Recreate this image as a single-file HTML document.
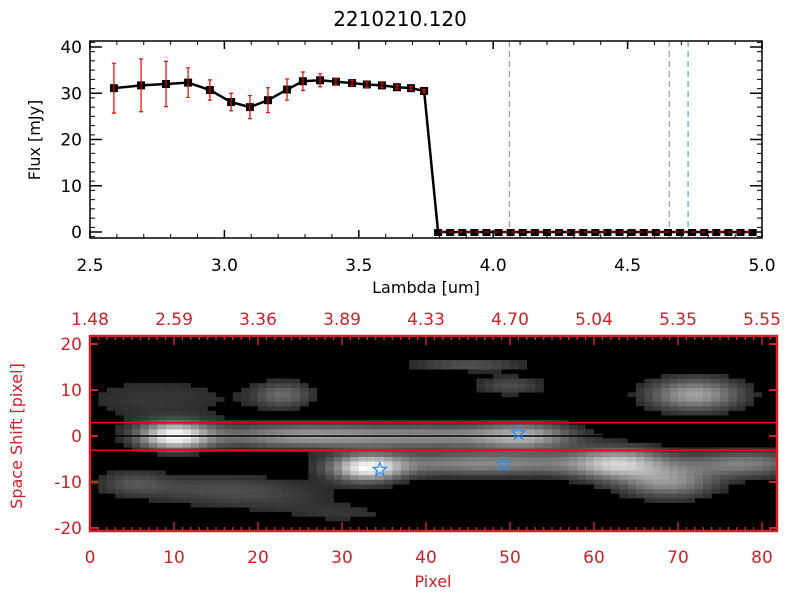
<!DOCTYPE html>
<html><head><meta charset="utf-8"><style>
body{margin:0;background:#fff;}
svg{display:block;font-family:"DejaVu Sans","Liberation Sans",sans-serif;}
</style></head><body>
<svg id="chart" width="800" height="600" viewBox="0 0 800 600">
<text x="400" y="26" font-size="20" text-anchor="middle">2210210.120</text>
<g id="top"></g>
<g id="bot"></g>
</svg>
<script>
// ---- spectrum data ----
const lambdas=[2.589,2.69,2.783,2.865,2.946,3.025,3.095,3.162,3.233,3.292,3.356,3.415,3.475,3.53,3.586,3.642,3.694,3.743];
const fluxes=[31.1,31.7,32.0,32.3,30.7,28.1,27.0,28.5,30.8,32.6,32.8,32.5,32.2,31.9,31.7,31.3,31.1,30.5];
const errors=[5.4,5.7,4.9,3.2,2.2,1.9,2.5,2.7,2.3,2.0,1.4,0.6,0.6,0.6,0.5,0.4,0.4,0.3];
const zeroLambdas=[3.795,3.84,3.885,3.93,3.975,4.02,4.065,4.11,4.155,4.2,4.245,4.29,4.335,4.38,4.425,4.47,4.515,4.56,4.605,4.65,4.695,4.74,4.785,4.83,4.875,4.92,4.965];
const vlines=[4.06,4.655,4.725];
const xTicksTop=[2.5,3.0,3.5,4.0,4.5,5.0];
const xTickLabelsTop=["2.5","3.0","3.5","4.0","4.5","5.0"];
const yTicksTop=[0,10,20,30,40];
// ---- image data ----
const topAxisLabels=["1.48","2.59","3.36","3.89","4.33","4.70","5.04","5.35","5.55"];
const pixTicks=[0,10,20,30,40,50,60,70,80];
const shiftTicks=[-20,-10,0,10,20];
const blobX=[10,25,42,52,33,47,63,69,78,72,23,8,15,45,50,20,30,5];
const blobY=[0,0,0,0,-7,-6,-6,-10,-6,9,9,8,-11,15.5,11,-14,-17,-10];
const blobSX=[3,8,8,4,3,10,4,4,5,4,2.5,8,8,5,3,8,5,3];
const blobSY=[2,1.8,1.8,2,2,1.8,2.5,2.5,2,2.5,2,4,2,1,1.5,2,1.5,2];
const blobA=[0.95,0.55,0.45,0.5,0.85,0.5,0.65,0.5,0.45,0.6,0.35,0.15,0.2,0.28,0.25,0.14,0.12,0.2];
const starX=[34.5,51,49.2];
const starY=[-7.3,0.6,-6.2];

const NS="http://www.w3.org/2000/svg";
function mk(parent,tag,attrs){const e=document.createElementNS(NS,tag);for(const k in attrs)e.setAttribute(k,attrs[k]);parent.appendChild(e);return e;}
const tp=document.getElementById('top');
const X1=v=>90+(v-2.5)*268.8, Y1=v=>232-v*4.625;
for(const v of vlines){const l=mk(tp,'line',{x1:X1(v),x2:X1(v),y1:41,y2:238,stroke:v>4.7?'#2a8ff0':'#888','stroke-dasharray':'6,4','stroke-width':1});
}
let pts=lambdas.map((l,i)=>X1(l)+','+Y1(fluxes[i]));
pts=pts.concat(zeroLambdas.map(l=>X1(l)+','+Y1(0)));
const line=mk(tp,'polyline',{points:pts.join(' '),fill:'none',stroke:'#000','stroke-width':2.5});

lambdas.forEach((l,i)=>{const x=X1(l),y=Y1(fluxes[i]);
 const m=mk(tp,'rect',{x:x-4,y:y-4,width:8,height:8,fill:'#000'});
 
 const e=mk(tp,'path',{d:`M${x},${Y1(fluxes[i]+errors[i])}V${Y1(fluxes[i]-errors[i])}M${x-2},${Y1(fluxes[i]+errors[i])}h4M${x-2},${Y1(fluxes[i]-errors[i])}h4`,stroke:'#e00',fill:'none','stroke-width':1.2});
 });
zeroLambdas.forEach(l=>{const m=mk(tp,'rect',{x:X1(l)-4,y:Y1(0)-3,width:8,height:7,fill:'#000'});
 });
const zl=mk(tp,'line',{x1:X1(3.8),x2:762,y1:Y1(0),y2:Y1(0),stroke:'#f00','stroke-dasharray':'5,4'});

const fr=mk(tp,'rect',{x:90,y:41,width:672,height:197,fill:'none',stroke:'#000','stroke-width':1.5});

for(let v=2.5;v<=5.001;v+=0.1){const x=X1(v);mk(tp,'path',{d:`M${x},238v-4M${x},41v4`,stroke:'#000','stroke-width':1});}
for(let v=-1;v<=41;v+=2){const y=Y1(v);mk(tp,'path',{d:`M90,${y}h5M762,${y}h-5`,stroke:'#000','stroke-width':1});}
xTicksTop.forEach((v,i)=>{const x=X1(v);
 mk(tp,'path',{d:`M${x},238v-8M${x},41v8`,stroke:'#000','stroke-width':1.5});
 const t=mk(tp,'text',{x:x,y:271,'font-size':17,'text-anchor':'middle'});t.textContent=xTickLabelsTop[i];
 });
yTicksTop.forEach(v=>{const y=Y1(v);
 mk(tp,'path',{d:`M90,${y}h12M762,${y}h-12`,stroke:'#000','stroke-width':1.5});
 const t=mk(tp,'text',{x:82,y:y+6,'font-size':17,'text-anchor':'end'});t.textContent=v;
 });
let t=mk(tp,'text',{x:426,y:293,'font-size':16,'text-anchor':'middle'});t.textContent='Lambda [um]';

t=mk(tp,'text',{x:0,y:0,'font-size':16,'text-anchor':'middle',transform:'translate(40,140) rotate(-90)'});t.textContent='Flux [mJy]';


const bt=document.getElementById('bot');
const RED='#cc2229';
const X2=v=>90+v*8.4, Y2=v=>436-v*4.6;
const clip=mk(bt,'clipPath',{id:'cp'});mk(clip,'rect',{x:90,y:336,width:687,height:195});
const ig=mk(bt,'g',{'clip-path':'url(#cp)'});

mk(ig,'rect',{x:90,y:336,width:687,height:195,fill:'#000'});
for(let c=0;c<82;c++)for(let r=-21;r<=21;r++){
 let v=0;for(let b=0;b<blobX.length;b++){const dx=(c+0.5-blobX[b])/blobSX[b],dy=(r-blobY[b])/blobSY[b];v+=blobA[b]*Math.exp(-0.5*(dx*dx+dy*dy));}
 if(v<0.1)continue;v=Math.min(1,v);const g=Math.round(20+v*235);
 const cell=mk(ig,'rect',{x:X2(c),y:Y2(r+0.5),width:8.6,height:4.8,fill:`rgb(${g},${g},${g})`});
 }
let hl=mk(bt,'line',{x1:90,x2:777,y1:Y2(0),y2:Y2(0),stroke:'#000','stroke-width':1.5});

[2.9,-3.1].forEach(v=>{const l=mk(bt,'line',{x1:90,x2:777,y1:Y2(v),y2:Y2(v),stroke:'#e00','stroke-width':1.5});
 });
starX.forEach((sx,i)=>{const cx=X2(sx),cy=Y2(starY[i]);let p='';
 for(let k=0;k<10;k++){const a=-Math.PI/2+k*Math.PI/5,rr=k%2?3:7;p+=(k?'L':'M')+(cx+rr*Math.cos(a)).toFixed(1)+','+(cy+rr*Math.sin(a)).toFixed(1);}
 const s=mk(bt,'path',{d:p+'Z',fill:'none',stroke:'#2a8ff0','stroke-width':1.3});
 });
const f2=mk(bt,'rect',{x:90,y:336,width:687,height:195,fill:'none',stroke:RED,'stroke-width':2.5});

for(let v=0;v<=81;v++){const x=X2(v),L=v%10===0?9:4;mk(bt,'path',{d:`M${x},531v-${L}M${x},336v${L}`,stroke:RED,'stroke-width':1.5});}
pixTicks.forEach((v,i)=>{const x=X2(v);
 let t=mk(bt,'text',{x:x,y:563,'font-size':17,fill:RED,'text-anchor':'middle'});t.textContent=v;
 
 t=mk(bt,'text',{x:x,y:325,'font-size':17,fill:RED,'text-anchor':'middle'});t.textContent=topAxisLabels[i];
 });
shiftTicks.forEach(v=>{const y=Y2(v);mk(bt,'path',{d:`M90,${y}h8M777,${y}h-8`,stroke:RED,'stroke-width':2});
 const t=mk(bt,'text',{x:82,y:y+6,'font-size':17,fill:RED,'text-anchor':'end'});t.textContent=v;
 });
t=mk(bt,'text',{x:433,y:587,'font-size':16,fill:RED,'text-anchor':'middle'});t.textContent='Pixel';

t=mk(bt,'text',{x:0,y:0,'font-size':16,fill:RED,'text-anchor':'middle',transform:'translate(22,436) rotate(-90)'});t.textContent='Space Shift [pixel]';

</script>
</body></html>
